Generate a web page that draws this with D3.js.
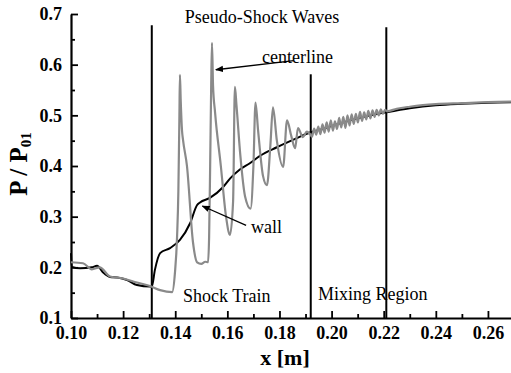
<!DOCTYPE html>
<html lang="en">
<head>
<meta charset="utf-8">
<title>Pseudo-Shock Pressure</title>
<script src="https://cdn.jsdelivr.net/npm/d3@7"></script>
<style>
  body { margin: 0; background: #fff; }
  svg { display: block; }
  .tick text { font-family: "Liberation Serif", serif; font-weight: bold; font-size: 18px; fill: #000; }
  .note { font-family: "Liberation Serif", serif; font-size: 18px; fill: #000; }
  .axlabel { font-family: "Liberation Serif", serif; font-weight: bold; fill: #000; }
</style>
</head>
<body>
<div id="chart"></div>
<script>
var w = 511, h = 373;

// wall pressure (black)
var wallX = [0.1000, 0.1003, 0.1035, 0.1080, 0.1100, 0.1123, 0.1150, 0.1177, 0.1215, 0.1253, 0.1303, 0.1310,
             0.1322, 0.1342, 0.1380, 0.1418, 0.1457, 0.1484, 0.1495, 0.1533, 0.1583, 0.1610, 0.1648, 0.1685,
             0.1725, 0.1790, 0.1867, 0.1917, 0.1960, 0.2000, 0.2050, 0.2100, 0.2150, 0.2210, 0.2300, 0.2400,
             0.2500, 0.2600, 0.2700];
var wallP = [0.228, 0.201, 0.198, 0.200, 0.203, 0.190, 0.181, 0.180, 0.175, 0.165, 0.162, 0.162,
             0.195, 0.228, 0.238, 0.254, 0.287, 0.323, 0.328, 0.337, 0.358, 0.375, 0.393, 0.405,
             0.420, 0.437, 0.455, 0.466, 0.472, 0.479, 0.487, 0.494, 0.500, 0.506, 0.514, 0.520,
             0.523, 0.525, 0.526];

// centerline pressure (grey)
var centerX = [0.1000, 0.1046, 0.1080, 0.1110, 0.1150, 0.1200, 0.1253, 0.1303, 0.1342, 0.1388, 0.1399, 0.1407,
               0.1412, 0.1416, 0.1418, 0.1421, 0.1426, 0.1430, 0.1445, 0.1468, 0.1484, 0.1500, 0.1515, 0.1526,
               0.1530, 0.1534, 0.1538, 0.1541, 0.1545, 0.1553, 0.1575, 0.1595, 0.1610, 0.1622, 0.1629, 0.1635,
               0.1650, 0.1668, 0.1689, 0.1700, 0.1708, 0.1718, 0.1737, 0.1752, 0.1765, 0.1775, 0.1790, 0.1814,
               0.1829, 0.1845, 0.1860, 0.1871, 0.1890, 0.1905, 0.1917,
               0.1925, 0.1933, 0.1941, 0.1949, 0.1957, 0.1965, 0.1973, 0.1981, 0.1989, 0.1997, 0.2005, 0.2013,
               0.2021, 0.2029, 0.2037, 0.2045, 0.2053, 0.2061, 0.2069, 0.2077, 0.2085, 0.2093, 0.2101, 0.2109,
               0.2117, 0.2125, 0.2133, 0.2141, 0.2149, 0.2157, 0.2165, 0.2173, 0.2181, 0.2189, 0.2197, 0.2205,
               0.2213, 0.2250, 0.2300, 0.2350, 0.2400, 0.2500, 0.2600, 0.2700];
var centerP = [0.210, 0.208, 0.196, 0.200, 0.182, 0.178, 0.170, 0.163, 0.155, 0.151, 0.190, 0.260,
               0.350, 0.500, 0.580, 0.530, 0.470, 0.451, 0.400, 0.250, 0.210, 0.207, 0.211, 0.210,
               0.260, 0.400, 0.560, 0.643, 0.560, 0.505, 0.400, 0.300, 0.264, 0.330, 0.556, 0.520,
               0.420, 0.340, 0.316, 0.400, 0.525, 0.470, 0.380, 0.362, 0.440, 0.516, 0.450, 0.398,
               0.490, 0.460, 0.435, 0.475, 0.457, 0.468, 0.463,
               0.458, 0.474, 0.462, 0.478, 0.463, 0.482, 0.466, 0.486, 0.468, 0.490, 0.470, 0.488,
               0.473, 0.495, 0.476, 0.497, 0.475, 0.500, 0.480, 0.502, 0.483, 0.503, 0.486, 0.507,
               0.489, 0.506, 0.492, 0.509, 0.494, 0.510, 0.497, 0.511, 0.500, 0.512, 0.503, 0.511,
               0.508, 0.513, 0.517, 0.520, 0.522, 0.524, 0.526, 0.527];

// region divider lines
var dividerX = [0.131, 0.192, 0.221];
var dividerTop = [0.678, 0.581, 0.674];

var xTicks = [0.10, 0.12, 0.14, 0.16, 0.18, 0.20, 0.22, 0.24, 0.26];
var xMinor = [0.11, 0.13, 0.15, 0.17, 0.19, 0.21, 0.23, 0.25, 0.27];
var yTicks = [0.1, 0.2, 0.3, 0.4, 0.5, 0.6, 0.7];
var yMinor = [0.15, 0.25, 0.35, 0.45, 0.55, 0.65];

var svg = d3.select("#chart").append("svg")
  .attr("width", w)
  .attr("height", h);

var x = d3.scaleLinear().domain([0.10, 0.27]).range([71, 514]);
var y = d3.scaleLinear().domain([0.1, 0.7]).range([318, 14]);

// axes (ticks point inward)
svg.append("g").attr("transform", "translate(0,318)")
  .call(d3.axisBottom(x).tickValues(xTicks).tickFormat(d3.format(".2f"))
    .tickSizeInner(-7).tickSizeOuter(0).tickPadding(8));
svg.append("g").attr("transform", "translate(0,318)")
  .call(d3.axisBottom(x).tickValues(xMinor).tickFormat("").tickSizeInner(-4).tickSizeOuter(0))
  .select(".domain").remove();

svg.append("g").attr("transform", "translate(71,0)")
  .call(d3.axisLeft(y).tickValues(yTicks).tickFormat(d3.format(".1f"))
    .tickSizeInner(-7).tickSizeOuter(0).tickPadding(9));
svg.append("g").attr("transform", "translate(71,0)")
  .call(d3.axisLeft(y).tickValues(yMinor).tickFormat("").tickSizeInner(-4).tickSizeOuter(0))
  .select(".domain").remove();

svg.selectAll(".domain").attr("stroke-width", 2.2);
svg.selectAll(".tick line").attr("stroke-width", 1.8);

// dividers
svg.selectAll("line.div")
  .data(dividerX)
  .enter().append("line")
  .attr("class", "div")
  .attr("x1", d => x(d)).attr("x2", d => x(d))
  .attr("y1", (d, i) => y(dividerTop[i]))
  .attr("y2", y(0.1))
  .attr("stroke", "#000")
  .attr("stroke-width", 2);

var line = d3.line().x(d => x(d[0])).y(d => y(d[1])).curve(d3.curveMonotoneX);

svg.append("path")
  .datum(wallX.map((d, i) => [d, wallP[i]]))
  .attr("d", line)
  .attr("fill", "none")
  .attr("stroke", "#000")
  .attr("stroke-width", 2);

svg.append("path")
  .datum(centerX.map((d, i) => [d, centerP[i]]))
  .attr("d", line)
  .attr("fill", "none")
  .attr("stroke", "#8a8a8a")
  .attr("stroke-width", 2.2)
  .attr("stroke-linejoin", "round");

// annotations
svg.append("defs").append("marker")
  .attr("id", "arr")
  .attr("viewBox", "0 0 10 10")
  .attr("refX", 9).attr("refY", 5)
  .attr("markerWidth", 8).attr("markerHeight", 8)
  .attr("markerUnits", "userSpaceOnUse")
  .attr("orient", "auto")
  .append("path").attr("d", "M0,1L10,5L0,9Z").attr("fill", "#000");

svg.append("line")
  .attr("x1", x(0.1855)).attr("y1", y(0.608))
  .attr("x2", x(0.1556)).attr("y2", y(0.590))
  .attr("stroke", "#000").attr("stroke-width", 1.3)
  .attr("marker-end", "url(#arr)");
svg.append("line")
  .attr("x1", x(0.1672)).attr("y1", y(0.283))
  .attr("x2", x(0.1504)).attr("y2", y(0.321))
  .attr("stroke", "#000").attr("stroke-width", 1.3)
  .attr("marker-end", "url(#arr)");

svg.append("text").attr("class", "note").attr("text-anchor", "middle")
  .attr("x", 262).attr("y", 23).text("Pseudo-Shock Waves");
svg.append("text").attr("class", "note")
  .attr("x", 262).attr("y", 63).text("centerline");
svg.append("text").attr("class", "note")
  .attr("x", 251).attr("y", 233).text("wall");
svg.append("text").attr("class", "note")
  .attr("x", 183).attr("y", 302).text("Shock Train");
svg.append("text").attr("class", "note")
  .attr("x", 318).attr("y", 300).text("Mixing Region");

svg.append("text").attr("class", "axlabel")
  .attr("x", 285).attr("y", 365)
  .attr("text-anchor", "middle")
  .style("font-size", "22px")
  .text("x [m]");

var yl = svg.append("text").attr("class", "axlabel")
  .attr("transform", "translate(27,164) rotate(-90)")
  .attr("text-anchor", "middle")
  .style("font-size", "25px");
yl.append("tspan").text("P / P");
yl.append("tspan").attr("dy", 4).style("font-size", "15px").text("01");
</script>
</body>
</html>
